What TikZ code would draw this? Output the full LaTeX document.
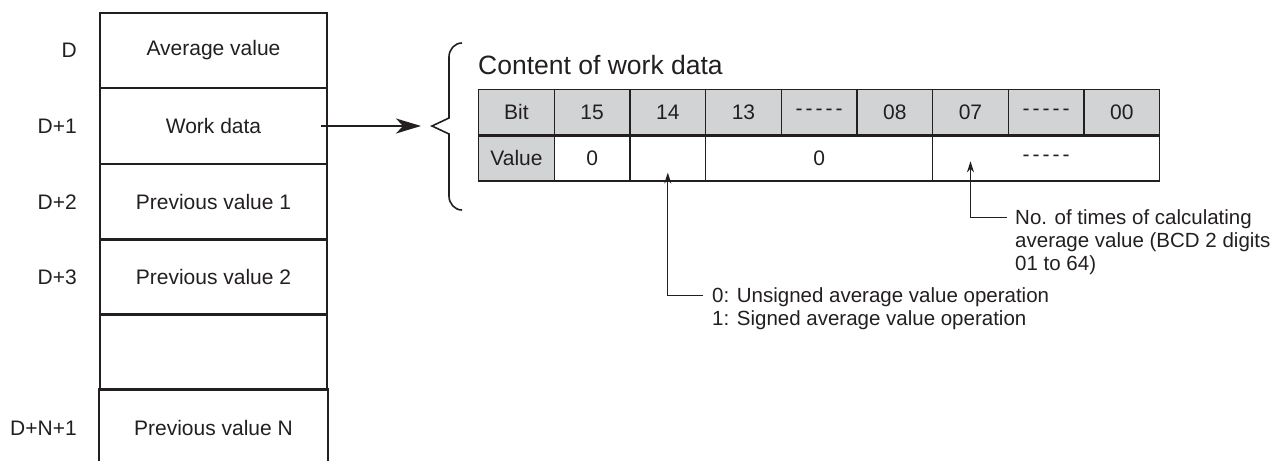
\documentclass[tikz,border=0pt]{standalone}
\usepackage{fontspec}
\setmainfont{Liberation Sans}
\usetikzlibrary{arrows.meta,positioning,calc}
\definecolor{ink}{HTML}{231F20}
\definecolor{bitgray}{HTML}{D2D3D5}
\newcommand{\dashfill}{-\kern3pt-\kern3pt-\kern3pt-\kern3pt-}

\begin{document}
\begin{tikzpicture}[x=1pt,y=-1pt,
  every node/.style={text=ink,font=\fontsize{21}{25}\selectfont},
  slot/.style={draw=ink,line width=2.2pt,minimum width=227pt,minimum height=75.5pt,inner sep=0pt},
  addr/.style={inner sep=0pt,left=22pt of #1},
  bitcell/.style={draw=ink,line width=1.3pt,fill=#1,minimum width=75.6pt,
    minimum height=45pt,inner sep=0pt,anchor=north west},
  bitcell/.default=white,
  note/.style={align=left,anchor=north west,inner sep=0pt,font=\fontsize{20.5}{23}\selectfont},
  pointer/.style={draw=ink,line width=1pt,-{Stealth[length=11pt,width=7pt]}},
]
  \useasboundingbox (0,0) rectangle (1281,460);

  % memory area
  \node[slot] (r0) at (213.5,50.5) {Average value};
  \node[slot] (r1) at (213.5,126) {Work data};
  \node[slot] (r2) at (213.5,202) {Previous value 1};
  \node[slot] (r3) at (213.5,277) {Previous value 2};
  \node[slot] (r4) at (213.5,352) {};
  \node[slot,draw=none] (r5) at (213.5,428) {Previous value N};
  \draw[ink,line width=2.2pt] (r5.south west) -- (r5.north west) -- (r5.north east) -- (r5.south east);

  \node[addr=r0] (a0) {D};
  \node[addr=r1] (a1) {D+1};
  \node[addr=r2] (a2) {D+2};
  \node[addr=r3] (a3) {D+3};
  \node[addr=r5] (a5) {D+N+1};

  % brace
  \coordinate (tip) at (432,126);
  \draw[ink,line width=1.6pt] (462,43) to[out=180,in=90] (449,57) -- (449,118) -- (tip)
    -- (449,134) -- (449,196) to[out=-90,in=180] (462,210);
  \draw[ink,line width=1.6pt,shorten >=11pt,-{Stealth[length=25pt,width=15pt,inset=7pt]}]
    ([xshift=-7pt]r1.east) -- (tip);

  % work data bits
  \node[anchor=west,inner sep=0pt,font=\fontsize{26.5}{30}\selectfont] (title) at (478,65) {Content of work data};
  \foreach \t [count=\i from 0] in {Bit,15,14,13,\dashfill,08,07,\dashfill,00}
    \node[bitcell=bitgray] (b\i) at (478+75.67*\i,89) {\t};
  \node[bitcell=bitgray] (v0) at (b0.south west) {Value};
  \node[bitcell] (v1) at (b1.south west) {0};
  \node[bitcell] (v2) at (b2.south west) {};
  \node[bitcell,minimum width=227pt] (v3) at (b3.south west) {0};
  \node[bitcell,minimum width=227pt] (v4) at (b6.south west) {\dashfill};

  % notes
  \node[note] (n07) at (1015,209.5) {No. of times of calculating\\average value (BCD 2 digits\\01 to 64)};
  \node[note] (n14) at (712,287.5) {0: Unsigned average value operation\\1: Signed average value operation};
  \draw[pointer] ([xshift=-8pt,yshift=-7.5pt]n07.north west) -| ($(b6.south)+(0,26)$);
  \draw[pointer] ([xshift=-9pt,yshift=-7.5pt]n14.north west) -| ([yshift=9pt]v2.south);
\end{tikzpicture}
\end{document}
